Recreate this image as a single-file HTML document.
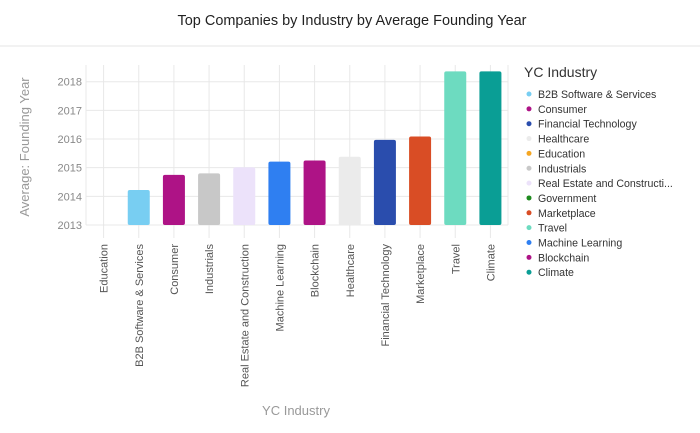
<!DOCTYPE html>
<html><head><meta charset="utf-8"><style>
body{margin:0;background:#fff;font-family:"Liberation Sans",sans-serif;}
svg{display:block}
</style></head><body>
<svg id="chart" width="700" height="433">
<text x="352" y="25" text-anchor="middle" font-size="15" fill="#222" textLength="349" lengthAdjust="spacingAndGlyphs">Top Companies by Industry by Average Founding Year</text>
<line x1="0" y1="46" x2="700" y2="46" stroke="#e4e4e4"/>
<g id="grid"></g><g id="bars"></g><g id="xlabels"></g><g id="ylabels"></g>
<text transform="translate(29,147) rotate(-90)" text-anchor="middle" font-size="13" fill="#999">Average: Founding Year</text>
<text x="296" y="415" text-anchor="middle" font-size="13" fill="#999">YC Industry</text>
<text x="524" y="77" font-size="14" fill="#333">YC Industry</text>
<g id="legend"></g>
</svg>
<script>
const categories=["Education","B2B Software & Services","Consumer","Industrials","Real Estate and Construction","Machine Learning","Blockchain","Healthcare","Financial Technology","Marketplace","Travel","Climate"];
const values=[null,2014.22,2014.75,2014.80,2015.01,2015.21,2015.25,2015.38,2015.97,2016.09,2018.36,2018.36];
const barColors=["#f5a623","#78cef2","#ae1386","#c8c8c8","#ece2fa","#2f7ff1","#ae1386","#ebebeb","#2a4dad","#d94d25","#6ddbc0","#0a9e95"];
const yTicks=[2013,2014,2015,2016,2017,2018];
const legendNames=["B2B Software & Services","Consumer","Financial Technology","Healthcare","Education","Industrials","Real Estate and Constructi...","Government","Marketplace","Travel","Machine Learning","Blockchain","Climate"];
const legendColors=["#78cef2","#ae1386","#2a4dad","#ebebeb","#f5a623","#c8c8c8","#ece2fa","#1e8a1e","#d94d25","#6ddbc0","#2f7ff1","#ae1386","#0a9e95"];
const NS="http://www.w3.org/2000/svg";
const x0=86,x1=508,yTop=65,yBase=225;
const band=(x1-x0)/categories.length;
const xc=i=>x0+band*(i+0.5);
const y=v=>yBase-(v-2013)*((yBase-81.7)/5);
function mk(t,a,p){const e=document.createElementNS(NS,t);for(const k in a)e.setAttribute(k,a[k]);p.appendChild(e);return e;}
const grid=document.getElementById('grid');
yTicks.forEach(t=>{
 const l=mk('line',{x1:x0,x2:x1,y1:y(t),y2:y(t),stroke:'#e8e8e8'},grid);
 
 
 const tx=mk('text',{x:x0-4,y:y(t)+4,'text-anchor':'end','font-size':11,fill:'#888'},document.getElementById('ylabels'));
 tx.textContent=t;
 
 
});
[x0,x1].forEach(xx=>{const l=mk('line',{x1:xx,x2:xx,y1:yTop,y2:yBase,stroke:'#e8e8e8'},grid);
 
 });
categories.forEach((c,i)=>{
 const l=mk('line',{x1:xc(i),x2:xc(i),y1:yTop,y2:238,stroke:'#e8e8e8'},grid);
 
 
 if(values[i]!=null){
  const h=yBase-y(values[i]);
  const r=mk('rect',{x:xc(i)-11,y:y(values[i]),width:22,height:h,rx:2,fill:barColors[i]},document.getElementById('bars'));
  
  
 }
 const t=mk('text',{transform:`translate(${xc(i)+4},244) rotate(-90)`,'text-anchor':'end','font-size':11,fill:'#555'},document.getElementById('xlabels'));
 t.textContent=c;
 
 
});
const lg=document.getElementById('legend');
legendNames.forEach((n,i)=>{
 const g=mk('g',{},lg);
 
 
 const yy=94+i*14.85;
 mk('circle',{cx:529,cy:yy,r:2.5,fill:legendColors[i]},g);
 const t=mk('text',{x:538,y:yy+4,'font-size':10.6,fill:'#333'},g);
 t.textContent=n;
});
</script>
</body></html>
